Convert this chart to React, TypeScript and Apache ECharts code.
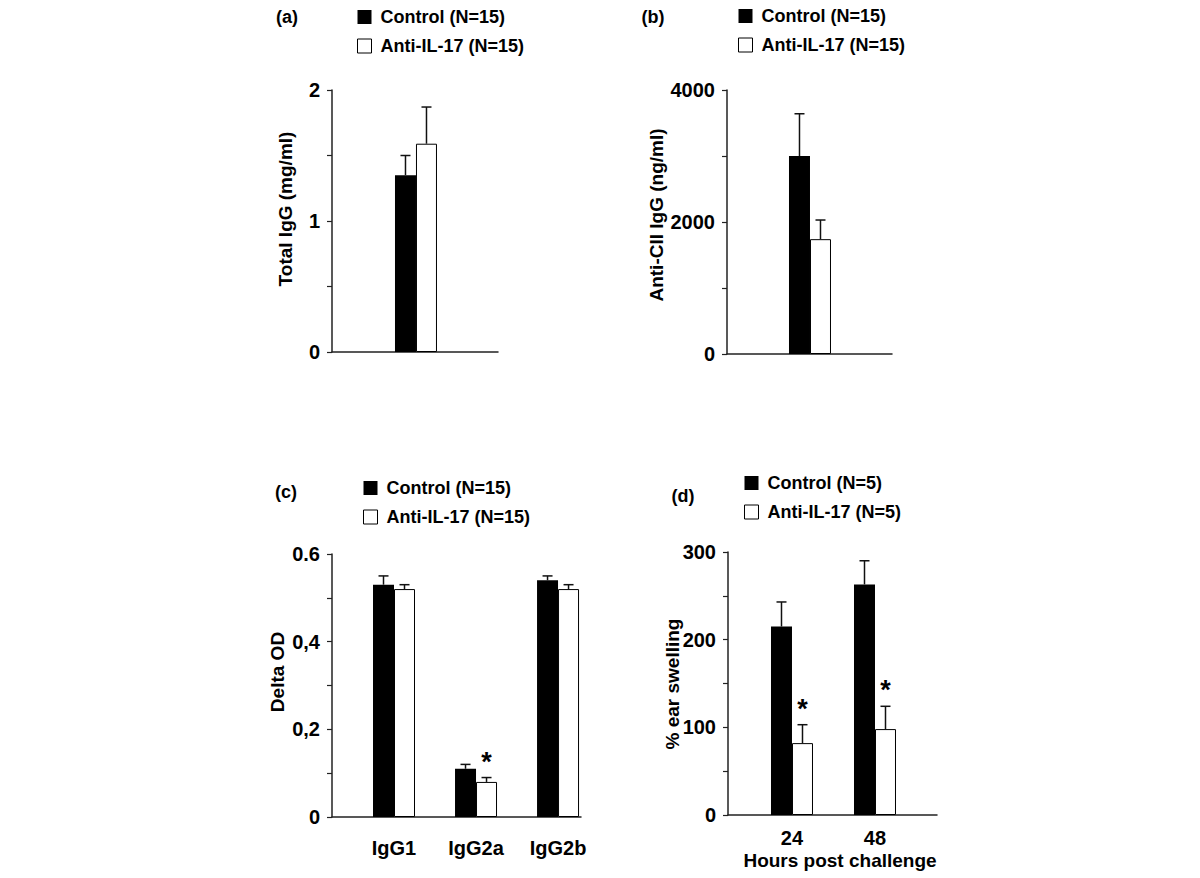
import React, { useEffect, useRef } from "react";
import * as echarts from "echarts";

const FONT = '"Liberation Sans", Arial, Helvetica, sans-serif';

// Panel (a) Total IgG
const aNames = ["Control (N=15)", "Anti-IL-17 (N=15)"];
const aControl = [1.35];
const aControlTop = [1.5];
const aAnti = [1.59];
const aAntiTop = [1.87];
const aTicks = [0, 1, 2];

// Panel (b) Anti-CII IgG
const bControl = [3000];
const bControlTop = [3640];
const bAnti = [1740];
const bAntiTop = [2030];
const bTicks = [0, 2000, 4000];

// Panel (c) Delta OD
const cCategories = ["IgG1", "IgG2a", "IgG2b"];
const cControl = [0.53, 0.11, 0.54];
const cControlTop = [0.55, 0.12, 0.55];
const cAnti = [0.52, 0.08, 0.52];
const cAntiTop = [0.53, 0.09, 0.53];
const cAntiStar = [0, 1, 0];
const cTicks = [0, 0.2, 0.4, 0.6];
const cTickLabels = ["0", "0,2", "0,4", "0.6"];

// Panel (d) ear swelling
const dNames = ["Control (N=5)", "Anti-IL-17 (N=5)"];
const dCategories = ["24", "48"];
const dControl = [215, 263];
const dControlTop = [243, 290];
const dAnti = [82, 98];
const dAntiTop = [103, 124];
const dAntiStar = [1, 1];
const dTicks = [0, 100, 200, 300];

const BAR = 21;
const AXIS_COLOR = "#222";

const toPoints = (vals: number[]) => vals.map((v, i) => [i, v]);
const errData = (vals: number[], tops: number[], side: number, stars?: number[]) =>
  vals.map((v, i) => [i, v, tops[i], side, stars ? stars[i] : 0]);

const renderErr = (params: any, api: any) => {
  const x = api.value(0);
  const m = api.value(1);
  const e = api.value(2);
  const side = api.value(3);
  const star = api.value(4);
  const p0 = api.coord([x, m]);
  const p1 = api.coord([x, e]);
  const cx = p0[0] + (side === 0 ? -BAR / 2 : BAR / 2);
  const ls = { stroke: "#111", lineWidth: 1.5 };
  const children: any[] = [
    { type: "line", shape: { x1: cx, y1: p0[1], x2: cx, y2: p1[1] }, style: ls },
    { type: "line", shape: { x1: cx - 5, y1: p1[1], x2: cx + 5, y2: p1[1] }, style: ls },
  ];
  if (star) {
    children.push({
      type: "text",
      style: {
        text: "*",
        x: cx,
        y: p1[1] - 16,
        fontSize: 27,
        fontWeight: "bold",
        fontFamily: FONT,
        fill: "#000",
        align: "center",
        verticalAlign: "middle",
      },
    });
  }
  return { type: "group", children };
};

const tickFormatter = (ticks: number[], labels?: string[]) => (v: number) => {
  for (let i = 0; i < ticks.length; i++) {
    if (Math.abs(v - ticks[i]) < 1e-9) return labels ? labels[i] : String(ticks[i]);
  }
  return "";
};

const yAxisBase = (gridIndex: number, max: number, interval: number, ticks: number[], labels?: string[]) => ({
  type: "value",
  gridIndex,
  min: 0,
  max,
  interval,
  splitLine: { show: false },
  axisLine: { show: true, onZero: false, lineStyle: { color: AXIS_COLOR, width: 1.5 } },
  axisTick: { show: true, length: 5, lineStyle: { color: AXIS_COLOR, width: 1.2 } },
  axisLabel: {
    margin: 12,
    fontSize: 20,
    fontWeight: "bold",
    fontFamily: FONT,
    color: "#000",
    formatter: tickFormatter(ticks, labels),
  },
});

const xAxisBase = (gridIndex: number, min: number, max: number, cats?: string[], margin = 10) => ({
  type: "value",
  gridIndex,
  min,
  max,
  splitLine: { show: false },
  axisLine: { show: true, onZero: false, lineStyle: { color: AXIS_COLOR, width: 1.5 } },
  axisTick: { show: false },
  axisLabel: cats
    ? {
        show: true,
        customValues: cats.map((_, i) => i),
        formatter: (v: number) => cats[Math.round(v)] ?? "",
        margin,
        fontSize: 20,
        fontWeight: "bold",
        fontFamily: FONT,
        color: "#000",
      }
    : { show: false },
});

const legendBase = (names: string[], left: number, top: number) => ({
  orient: "vertical",
  left,
  top,
  padding: 0,
  icon: "rect",
  itemWidth: 14,
  itemHeight: 14,
  itemGap: 11,
  selectedMode: false,
  textStyle: {
    fontSize: 18,
    fontWeight: "bold",
    fontFamily: FONT,
    color: "#000",
    padding: [0, 0, 0, 4],
  },
  data: [
    { name: names[0], itemStyle: { color: "#000", borderWidth: 0 } },
    { name: names[1], itemStyle: { color: "#fff", borderColor: "#000", borderWidth: 1 } },
  ],
});

const barPair = (idx: number, names: string[], ctrl: number[], anti: number[]) => [
  {
    type: "bar",
    name: names[0],
    xAxisIndex: idx,
    yAxisIndex: idx,
    data: toPoints(ctrl),
    barWidth: BAR,
    barGap: "0%",
    itemStyle: { color: "#000" },
  },
  {
    type: "bar",
    name: names[1],
    xAxisIndex: idx,
    yAxisIndex: idx,
    data: toPoints(anti),
    barWidth: BAR,
    barGap: "0%",
    itemStyle: { color: "#fff", borderColor: "#000", borderWidth: 1 },
  },
];

const errSeries = (idx: number, data: any[]) => ({
  type: "custom",
  xAxisIndex: idx,
  yAxisIndex: idx,
  renderItem: renderErr,
  encode: { x: 0, y: 1 },
  data,
  z: 5,
  clip: false,
});

const textEl = (text: string, x: number, y: number, size: number, rotate = false) => ({
  type: "text",
  x,
  y,
  rotation: rotate ? Math.PI / 2 : 0,
  style: {
    text,
    fontSize: size,
    fontWeight: "bold",
    fontFamily: FONT,
    fill: "#000",
    align: "center",
    verticalAlign: "middle",
  },
});

export default function App() {
  const ref = useRef<HTMLDivElement>(null);
  useEffect(() => {
    if (!ref.current) return;
    const chart = echarts.init(ref.current, null, { renderer: "svg" });
    const option: any = {
      animation: false,
      backgroundColor: "#fff",
      grid: [
        { left: 332, top: 90, width: 166, height: 262 },
        { left: 727, top: 90, width: 165, height: 264 },
        { left: 332, top: 554, width: 249, height: 263 },
        { left: 728, top: 552, width: 209, height: 263 },
      ],
      xAxis: [
        xAxisBase(0, -1.024, 1.0),
        xAxisBase(1, -1.012, 1.0),
        xAxisBase(2, -0.756, 2.28, cCategories, 21),
        xAxisBase(3, -0.771, 1.747, dCategories, 13),
      ],
      yAxis: [
        yAxisBase(0, 2, 0.5, aTicks),
        yAxisBase(1, 4000, 1000, bTicks),
        yAxisBase(2, 0.6, 0.1, cTicks, cTickLabels),
        yAxisBase(3, 300, 50, dTicks),
      ],
      legend: [
        legendBase(aNames, 357, 8),
        legendBase(aNames, 738, 7),
        legendBase(aNames, 363, 479),
        legendBase(dNames, 744, 474),
      ],
      series: [
        ...barPair(0, aNames, aControl, aAnti),
        errSeries(0, [...errData(aControl, aControlTop, 0), ...errData(aAnti, aAntiTop, 1)]),
        ...barPair(1, aNames, bControl, bAnti),
        errSeries(1, [...errData(bControl, bControlTop, 0), ...errData(bAnti, bAntiTop, 1)]),
        ...barPair(2, aNames, cControl, cAnti),
        errSeries(2, [...errData(cControl, cControlTop, 0), ...errData(cAnti, cAntiTop, 1, cAntiStar)]),
        ...barPair(3, dNames, dControl, dAnti),
        errSeries(3, [...errData(dControl, dControlTop, 0), ...errData(dAnti, dAntiTop, 1, dAntiStar)]),
      ],
      graphic: [
        textEl("(a)", 287, 17, 18),
        textEl("(b)", 653, 17, 18),
        textEl("(c)", 286, 492, 18),
        textEl("(d)", 683, 496, 18),
        textEl("Total IgG (mg/ml)", 285, 209, 19, true),
        textEl("Anti-CII IgG (ng/ml)", 656, 215, 19, true),
        textEl("Delta OD", 277, 672, 19, true),
        textEl("% ear swelling", 672, 684, 19, true),
        textEl("Hours post challenge", 840, 860, 19),
      ],
    };
    chart.setOption(option);
    return () => chart.dispose();
  }, []);
  return (
    <div
      ref={ref}
      style={{ position: "absolute", left: 0, top: 0, width: 1200, height: 878, background: "#fff" }}
    />
  );
}
